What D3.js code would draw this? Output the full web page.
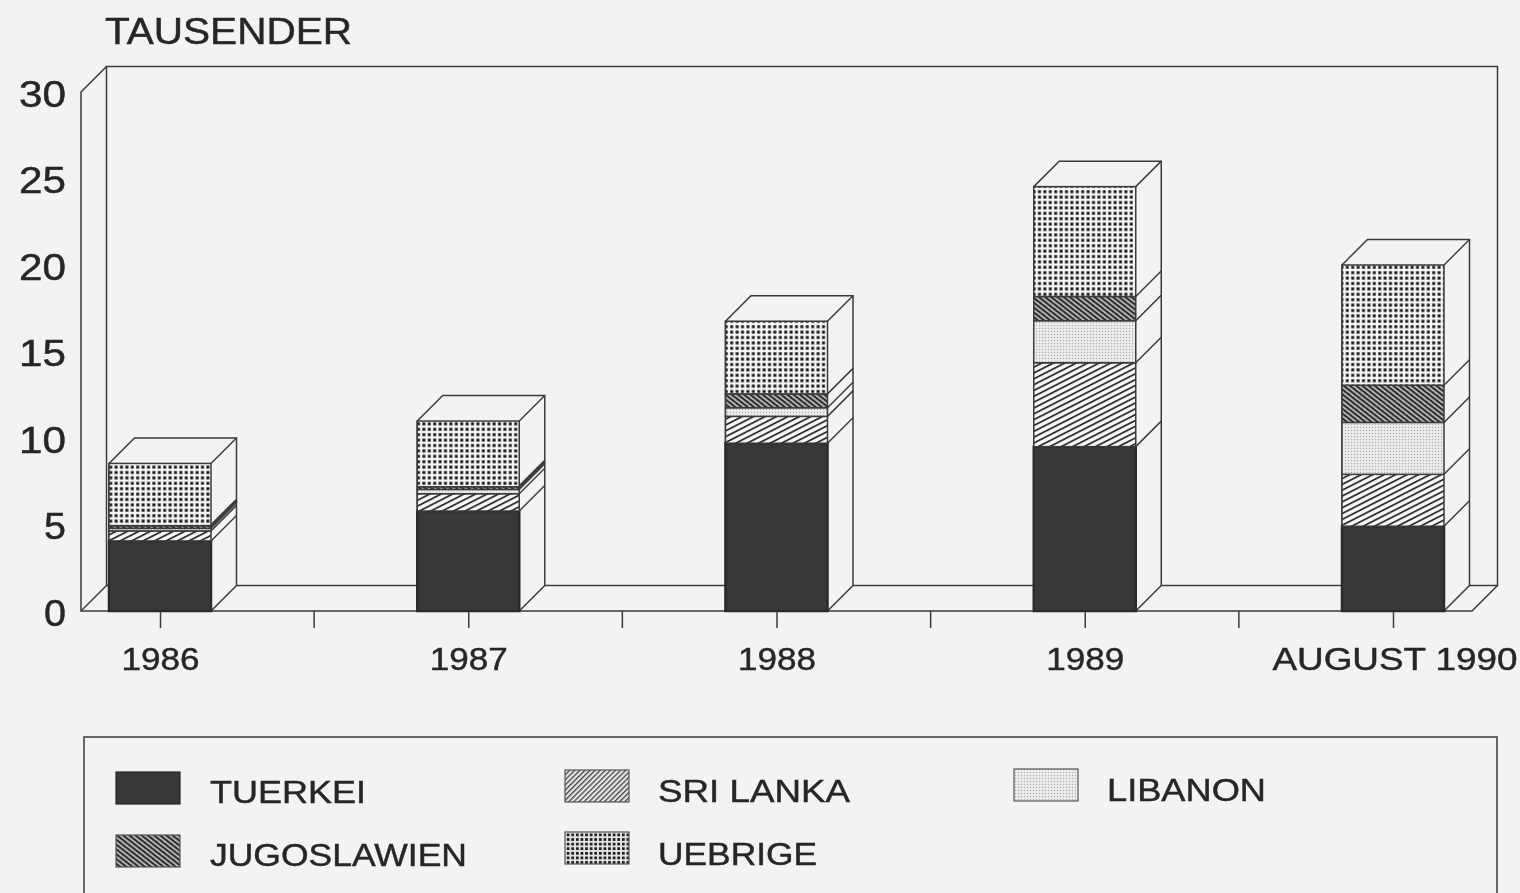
<!DOCTYPE html>
<html><head><meta charset="utf-8">
<script src="https://cdn.jsdelivr.net/npm/d3@7"></script>
<style>html,body{margin:0;padding:0;background:#f3f3f2;overflow:hidden}
svg{display:block}text{font-family:"Liberation Sans",Arial,sans-serif;fill:#262626;stroke:#262626;stroke-width:0.45px}</style>
</head><body><svg id="c" width="1520" height="893"></svg>
<script>
const yearLabels = ["1986","1987","1988","1989","AUGUST 1990"];
const seriesNames = ["TUERKEI","SRI LANKA","LIBANON","JUGOSLAWIEN","UEBRIGE"];
const tuerkei     = [4.05, 5.78, 9.70, 9.50, 4.90];
const sriLanka    = [0.58, 1.00, 1.55, 4.85, 3.00];
const libanon     = [0.15, 0.25, 0.50, 2.43, 3.00];
const jugoslawien = [0.15, 0.15, 0.80, 1.40, 2.15];
const uebrige     = [3.60, 3.80, 4.20, 6.35, 6.95];
const yTicks = [0,5,10,15,20,25,30];

const svg = d3.select("#c");
const INK = "#3a3a3a", PAPER = "#f3f3f2", DEPTH = 25.5;
const defs = svg.append("defs");
defs.append("filter").attr("id","soft").append("feGaussianBlur").attr("stdDeviation",0.5);

function hatch(id, size, angle, w, stroke, bg){
  const p = defs.append("pattern").attr("id",id).attr("patternUnits","userSpaceOnUse")
    .attr("width",size).attr("height",size).attr("patternTransform",`rotate(${angle})`);
  p.append("rect").attr("width",size).attr("height",size).attr("fill",bg);
  p.append("rect").attr("width",size).attr("height",w).attr("fill",stroke);
}
function dots(id, size, r, fill, bg){
  const p = defs.append("pattern").attr("id",id).attr("patternUnits","userSpaceOnUse")
    .attr("width",size).attr("height",size);
  p.append("rect").attr("width",size).attr("height",size).attr("fill",bg);
  p.append("rect").attr("x",size/2-r).attr("y",size/2-r).attr("width",2*r).attr("height",2*r).attr("fill",fill);
}
hatch("pSri", 5.2, -27, 1.8, "#333", "#f6f6f6");
hatch("pSriL", 3.6, -45, 1.3, "#444", "#e6e6e6");
hatch("pJug", 3.8, 38, 2.2, "#2e2e2e", "#c8c8c8");
dots("pLib", 3, 0.65, "#adadad", "#eeeeee");
dots("pUeb", 5.4, 1.5, "#1c1c1c", "#f8f8f8");
dots("pUebL", 4.6, 1.4, "#222", "#e6e6e6");
const fills = ["#383838","url(#pSri)","url(#pLib)","url(#pJug)","url(#pUeb)"];
const legendFills = ["#383838","url(#pSriL)","url(#pLib)","url(#pJug)","url(#pUebL)"];

const y = d3.scaleLinear().domain([0,30]).range([611,92]);
const x = d3.scalePoint().domain(yearLabels).range([160,1393]);
const BAR = 102;

const rows = yearLabels.map((k,i)=>({k, s0:tuerkei[i], s1:sriLanka[i], s2:libanon[i], s3:jugoslawien[i], s4:uebrige[i]}));
const stack = d3.stack().keys(["s0","s1","s2","s3","s4"])(rows);

const g = svg.append("g").attr("filter","url(#soft)");
const L = x.range()[0]-79, R = x.range()[1]+79;

// wall and floor frame
const frame = g.append("g").attr("fill","none").attr("stroke",INK).attr("stroke-width",1.5);
frame.append("rect").attr("x",L+DEPTH).attr("y",y(30)-DEPTH).attr("width",R-L).attr("height",y(0)-y(30));
frame.append("path").attr("d",`M${L+DEPTH},${y(30)-DEPTH}L${L},${y(30)}V${y(0)}H${R}L${R+DEPTH},${y(0)-DEPTH}`);
frame.append("path").attr("d",`M${L},${y(0)}L${L+DEPTH},${y(0)-DEPTH}`);

// bars
const bars = g.append("g").selectAll("g").data(yearLabels).join("g");
bars.each(function(k,i){
  const b = d3.select(this), x0 = x(k)-BAR/2, x1 = x(k)+BAR/2;
  const top = y(stack[4][i][1]);
  b.append("path").attr("d",`M${x0},${top}L${x0+DEPTH},${top-DEPTH}H${x1+DEPTH}V${y(0)-DEPTH}L${x1},${y(0)}H${x0}Z`)
    .attr("fill",PAPER).attr("stroke",INK).attr("stroke-width",1.5);
  b.append("path").attr("d",`M${x1},${top}L${x1+DEPTH},${top-DEPTH}`).attr("stroke",INK).attr("stroke-width",1.5);
  stack.forEach((s,j)=>{
    const y0 = y(s[i][1]), y1 = y(s[i][0]);
    b.append("rect").attr("x",x0).attr("y",y0).attr("width",BAR).attr("height",y1-y0)
      .attr("fill",fills[j]);
    b.append("rect").attr("x",x0).attr("y",y0).attr("width",BAR).attr("height",y1-y0)
      .attr("fill","none").attr("stroke",j===0?"#2a2a2a":INK).attr("stroke-width",j===0?2.5:1.5);
    if(j<4){
      const thin = s[i][1]-s[i][0] < 0.3 && j===3;
      b.append("path").attr("d",`M${x1},${y0}L${x1+DEPTH},${y0-DEPTH}`)
        .attr("stroke",INK).attr("stroke-width",thin?3:1.5);
    }
  });
});

// axes
const stretch = (sel, w) => sel.attr("textLength",w).attr("lengthAdjust","spacingAndGlyphs");
const yAxis = g.append("g").attr("transform","translate(66,0)")
  .call(d3.axisLeft(y).tickValues(yTicks).tickSize(0).tickPadding(0));
yAxis.select(".domain").remove();
yAxis.attr("font-family",null);
yAxis.selectAll("text").attr("font-size",36).attr("dy","0.39em")
  .each(function(d){ stretch(d3.select(this), d===0||d===5?22:47); });

const xAxis = g.append("g").attr("transform",`translate(0,${y(0)})`)
  .call(d3.axisBottom(x).tickSize(17).tickPadding(0));
xAxis.select(".domain").remove();
xAxis.attr("font-family",null);
xAxis.selectAll("line").attr("stroke",INK).attr("stroke-width",1.5);
xAxis.selectAll("text").attr("y",59).attr("dy",0).attr("font-size",31)
  .attr("x",d=>d.length>4?1.5:0)
  .each(function(d){ stretch(d3.select(this), d.length>4?245:78); });
g.append("g").selectAll("line").data(d3.pairs(yearLabels)).join("line")
  .attr("x1",d=>(x(d[0])+x(d[1]))/2).attr("x2",d=>(x(d[0])+x(d[1]))/2)
  .attr("y1",y(0)).attr("y2",y(0)+17).attr("stroke",INK).attr("stroke-width",1.5);

const title = g.append("text").attr("x",105).attr("y",44).attr("font-size",36).text("TAUSENDER");
stretch(title,247);

// legend
g.append("path").attr("d","M84,893V737H1497V893").attr("fill","none").attr("stroke",INK).attr("stroke-width",1.5);
const legendPos = [[116,772,210,803,156],[565,770,658,802,192],[1014,769,1107,801,159],[116,835,210,866,257],[565,832,658,865,159]];
seriesNames.forEach((n,i)=>{
  const [sx,sy,tx,ty,tw] = legendPos[i];
  g.append("rect").attr("x",sx).attr("y",sy).attr("width",64).attr("height",32)
    .attr("fill",legendFills[i]).attr("stroke",i===0?"#2a2a2a":"#555").attr("stroke-width",1.2);
  stretch(g.append("text").attr("x",tx).attr("y",ty).attr("font-size",32).text(n),tw);
});
</script></body></html>
